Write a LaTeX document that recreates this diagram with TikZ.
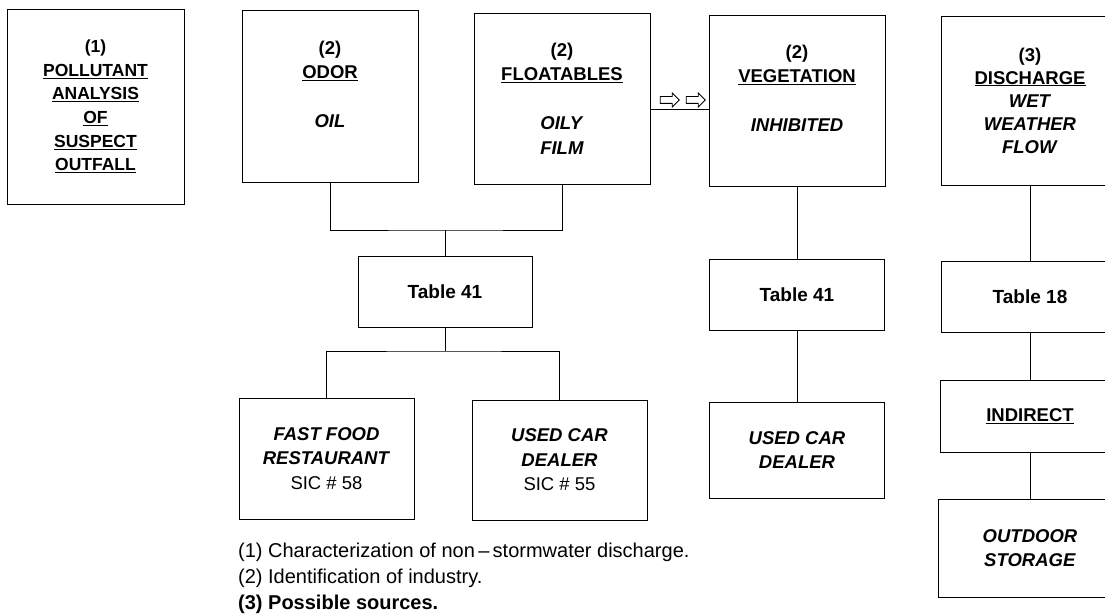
\documentclass[tikz,border=0pt]{standalone}
\usepackage{fontspec}
\setmainfont{Liberation Sans}
\usetikzlibrary{positioning, shapes.arrows}

\begin{document}
\begin{tikzpicture}[
    x=1pt, y=-1pt,
    box/.style={rectangle, draw, line width=0.9pt, minimum width=176pt, align=center, inner sep=2pt, font=\fontsize{18.5}{24.5}\selectfont\bfseries},
    topbox/.style={box, minimum height=171pt},
    tabbox/.style={box, minimum height=71pt, font=\fontsize{19}{24}\selectfont\bfseries},
    line/.style={draw, line width=0.9pt},
    flow/.style={single arrow, draw, line width=0.8pt, minimum height=19pt, inner sep=3pt, single arrow head extend=3.5pt},
    note/.style={align=left, inner sep=0pt, font=\fontsize{20}{26}\selectfont}
]
\useasboundingbox (0,0) rectangle (1105,615);
\clip (0,0) rectangle (1105,615);

\node[box, minimum width=177pt, minimum height=195pt, font=\fontsize{17.5}{23.6}\selectfont\bfseries] (pollut) at (95.5,106.5) {(1)\\ \underline{POLLUTANT}\\ \underline{ANALYSIS}\\ \underline{OF}\\ \underline{SUSPECT}\\ \underline{OUTFALL}};
\node[topbox, minimum height=172pt] (odor) at (330,96.5) {(2)\\ \underline{ODOR}\\ ~\\ \textit{OIL}\\ ~};
\node[topbox] (float) at (562,98.5) {(2)\\ \underline{FLOATABLES}\\ ~\\ \textit{OILY}\\ \textit{FILM}};
\node[topbox] (veg) at (797,100.5) {(2)\\ \underline{VEGETATION}\\ ~\\ \textit{INHIBITED}\\ ~};
\node[topbox, minimum height=169pt, minimum width=178pt, font=\fontsize{18.5}{23}\selectfont\bfseries] (disch) at (1030,100.5) {(3)\\ \underline{DISCHARGE}\\ \textit{WET}\\ \textit{WEATHER}\\ \textit{FLOW}};

\node[flow] (flowA) at (668,100) {};
\node[flow] (flowB) at (694,100) {};

\node[tabbox, minimum width=174pt] (tabA) at (445,291.5) {Table 41};
\node[tabbox, minimum width=175pt] (tabB) at (797,294.5) {Table 41};
\node[tabbox, minimum width=178pt] (tabC) at (1030,296.5) {Table 18};

\node[box, minimum width=175pt, minimum height=121pt] (fast) at (326.5,458.5) {\textit{FAST FOOD}\\ \textit{RESTAURANT}\\ \mdseries SIC \# 58};
\node[box, minimum width=175pt, minimum height=120pt] (usedA) at (559.5,460) {\textit{USED CAR}\\ \textit{DEALER}\\ \mdseries SIC \# 55};
\node[box, minimum width=175pt, minimum height=96pt] (usedB) at (797,450) {\textit{USED CAR}\\ \textit{DEALER}};
\node[box, minimum width=180pt, minimum height=72pt] (indir) at (1030,416) {\underline{INDIRECT}};
\node[box, minimum width=184pt, minimum height=98pt] (outdr) at (1030,548) {\textit{OUTDOOR}\\ \textit{STORAGE}};

\node[note, anchor=west] (notes) at (238,578) {(1) Characterization of non\,--\,stormwater discharge.\\ (2) Identification of industry.\\ \textbf{(3) Possible sources.}};

\coordinate (joinA) at (445,230);
\coordinate (splitA) at (445,351);
\draw[line] (odor) |- (joinA) -| (float);
\draw[line] (joinA) -- (tabA);
\draw[line] (tabA) -- (splitA);
\draw[line] (fast) |- (splitA) -| (usedA);
\draw[line] ([yshift=-10.5pt]float.east) -- ([yshift=-10.5pt]float.east -| veg.west);
\draw[line] (veg) -- (tabB);
\draw[line] (tabB) -- (usedB);
\draw[line] (disch) -- (tabC);
\draw[line] (tabC) -- (indir);
\draw[line] (indir) -- (outdr);
\end{tikzpicture}
\end{document}
